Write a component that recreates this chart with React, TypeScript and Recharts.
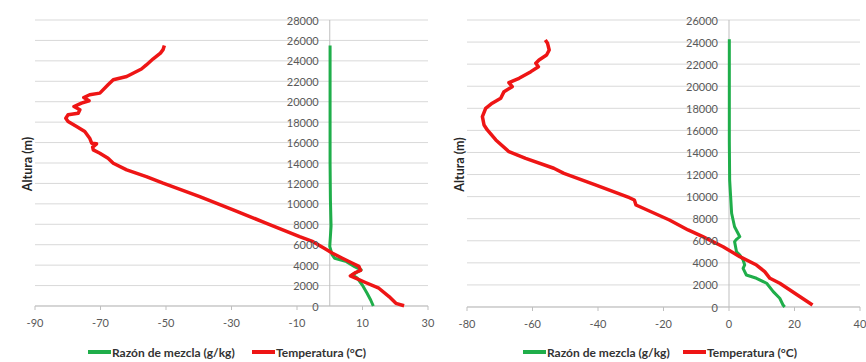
import React from 'react';
import {
  ScatterChart,
  Scatter,
  XAxis,
  YAxis,
  CartesianGrid,
  ReferenceLine,
} from 'recharts';

// ---------- Left sounding ----------
const leftTempAlt = [25500, 25100, 24760, 24200, 23600, 23200, 22470, 22150, 21650, 20840, 20680, 20410, 20090, 19860, 19530, 19210, 18880, 18720, 18390, 18060, 17570, 17080, 16430, 15940, 15880, 15550, 15290, 14960, 14470, 13980, 13330, 12670, 12020, 10710, 9410, 8100, 6790, 6300, 5580, 5190, 4700, 4210, 3880, 3480, 3280, 2950, 2730, 2300, 1740, 920, 260, 30];
const leftTempVal = [-50.5, -50.9, -51.7, -53.9, -56, -57.5, -62, -66.1, -67.7, -70.2, -73.3, -75.1, -73.5, -75.8, -78.1, -76.3, -76.8, -79.9, -80.6, -79.9, -77.3, -74.8, -73.3, -72.7, -71.2, -72.4, -72.2, -70.2, -67.7, -66.1, -62, -56, -50.9, -39.7, -29.5, -19.3, -9.2, -5.1, -1.3, 0.7, 3.7, 6.8, 8.9, 9.4, 7.9, 6.3, 7.9, 10.9, 15.0, 18.1, 20.2, 22.7];

const leftMixAlt = [25500, 20000, 14000, 10440, 7810, 6830, 5840, 5020, 4670, 4340, 3850, 3530, 3050, 2730, 2070, 1250, 590, 0];
const leftMixVal = [0.1, 0.1, 0.1, 0.2, 0.4, 0.2, 0.0, 0.7, 1.5, 5.1, 7.6, 9.6, 6.8, 8.4, 9.9, 11.4, 12.5, 13.3];

const leftXTicks = [-90, -70, -50, -30, -10, 10, 30];
const leftYTicks = [0, 2000, 4000, 6000, 8000, 10000, 12000, 14000, 16000, 18000, 20000, 22000, 24000, 26000, 28000];

// ---------- Right sounding ----------
const rightTempAlt = [24190, 23890, 23280, 22830, 22380, 22080, 21770, 21320, 20720, 20320, 19960, 19510, 18910, 18460, 18000, 17240, 16490, 16040, 15130, 14070, 13470, 12570, 12110, 11050, 9900, 9690, 9240, 7880, 6980, 6370, 5460, 4560, 3800, 3200, 2600, 2150, 930, 180];
const rightTempVal = [-56.1, -55.4, -54.9, -55.7, -58, -59, -58.2, -60.5, -64.1, -67.2, -66.2, -68.7, -69.7, -72.3, -74.3, -75.3, -74.8, -73.8, -71.2, -67.2, -62.1, -53.5, -50.4, -40.6, -30.4, -28.9, -28.4, -18.2, -12.5, -8, -1.8, 3.3, 8.4, 10.9, 12.5, 15.5, 21.7, 25.5];

const rightMixAlt = [24250, 15000, 11500, 10000, 8490, 7270, 6370, 6130, 5920, 5010, 4710, 4260, 3810, 3500, 2900, 2600, 2150, 1390, 790, 180, 0];
const rightMixVal = [0.1, 0.1, 0.2, 0.5, 0.8, 1.7, 3.3, 2.3, 1.7, 2.3, 3.3, 4.3, 4.8, 4.3, 5.3, 8.4, 11.5, 13.5, 15.5, 16.5, 17];

const rightXTicks = [-80, -60, -40, -20, 0, 20, 40];
const rightYTicks = [0, 2000, 4000, 6000, 8000, 10000, 12000, 14000, 16000, 18000, 20000, 22000, 24000, 26000];

const seriesNames = ['Razón de mezcla (g/kg)', 'Temperatura (°C)'];
const yLabel = 'Altura (m)';

const GREEN = '#1fae4a';
const RED = '#ee1515';
const FONT = 'Lato, "Open Sans", sans-serif';

const toPoints = (alt: number[], val: number[]) => alt.map((a, i) => ({ x: val[i], y: a }));

type PanelProps = {
  left: number;
  width: number;
  margin: { top: number; right: number; left: number; bottom: number };
  xTicks: number[];
  yTicks: number[];
  temp: { x: number; y: number }[];
  mix: { x: number; y: number }[];
  legendGreenX: number;
  legendRedX: number;
};

const Panel = ({ left, width, margin, xTicks, yTicks, temp, mix, legendGreenX, legendRedX }: PanelProps) => {
  const height = 362;
  const yAxisW = 1;
  const xMin = xTicks[0];
  const xMax = xTicks[xTicks.length - 1];
  const plotLeft = margin.left + yAxisW;
  const plotW = width - plotLeft - margin.right;
  const plotH = height - margin.top - margin.bottom - 30;
  const zeroX = plotLeft + (plotW * (0 - xMin)) / (xMax - xMin);

  const renderYTick = (props: any) => {
    const { y, payload } = props;
    return (
      <text
        key={`yt-${payload.value}`}
        x={zeroX - 11}
        y={y}
        textAnchor="end"
        dominantBaseline="central"
        fontSize={11}
        fontFamily={FONT}
        fill="#595959"
      >
        {payload.value}
      </text>
    );
  };

  const renderYLabel = () => {
    const cx = plotLeft - 8;
    const cy = margin.top + plotH / 2 + 1;
    return (
      <text
        x={cx}
        y={cy}
        transform={`rotate(-90, ${cx}, ${cy})`}
        textAnchor="middle"
        dominantBaseline="central"
        fontSize={12.5}
        fontWeight="bold"
        fontFamily={FONT}
        fill="#262626"
      >
        {yLabel}
      </text>
    );
  };

  return (
    <div style={{ position: 'absolute', left, top: 0, width, height }}>
      <ScatterChart width={width} height={height} margin={margin}>
        <CartesianGrid horizontal vertical={false} stroke="#d9d9d9" />
        <XAxis
          type="number"
          dataKey="x"
          domain={[xMin, xMax]}
          ticks={xTicks}
          height={30}
          stroke="#bfbfbf"
          tickSize={4}
          tickMargin={9}
          tick={{ fontSize: 11, fill: '#595959', fontFamily: FONT }}
          interval={0}
        />
        <YAxis
          type="number"
          dataKey="y"
          domain={[yTicks[0], yTicks[yTicks.length - 1]]}
          ticks={yTicks}
          width={yAxisW}
          axisLine={false}
          tickLine={false}
          tick={renderYTick}
          interval={0}
          label={renderYLabel}
        />
        <ReferenceLine x={0} stroke="#bfbfbf" strokeWidth={1} />
        <Scatter
          name={seriesNames[0]}
          data={mix}
          fill={GREEN}
          line={{ stroke: GREEN, strokeWidth: 3, strokeLinejoin: 'round', fill: 'none' }}
          lineJointType="linear"
          shape={() => <g />}
          isAnimationActive={false}
        />
        <Scatter
          name={seriesNames[1]}
          data={temp}
          fill={RED}
          line={{ stroke: RED, strokeWidth: 3.5, strokeLinejoin: 'round', fill: 'none' }}
          lineJointType="linear"
          shape={() => <g />}
          isAnimationActive={false}
        />
      </ScatterChart>
      {[
        { x: legendGreenX, color: GREEN, name: seriesNames[0] },
        { x: legendRedX, color: RED, name: seriesNames[1] },
      ].map((it) => (
        <div
          key={it.name}
          style={{
            position: 'absolute',
            left: it.x - left,
            top: 343,
            height: 18,
            display: 'flex',
            alignItems: 'center',
            fontFamily: FONT,
            fontSize: 12,
            fontWeight: 'bold',
            color: '#333333',
            whiteSpace: 'nowrap',
          }}
        >
          <span style={{ display: 'inline-block', width: 23, height: 4, background: it.color, marginRight: 1 }} />
          {it.name}
        </div>
      ))}
    </div>
  );
};

export default function App() {
  return (
    <div style={{ position: 'absolute', left: 0, top: 0, width: 866, height: 362, background: '#fff', overflow: 'hidden' }}>
      <Panel
        left={0}
        width={435}
        margin={{ top: 20, right: 7, left: 34, bottom: 26 }}
        xTicks={leftXTicks}
        yTicks={leftYTicks}
        temp={toPoints(leftTempAlt, leftTempVal)}
        mix={toPoints(leftMixAlt, leftMixVal)}
        legendGreenX={88}
        legendRedX={252}
      />
      <Panel
        left={432}
        width={434}
        margin={{ top: 20, right: 6, left: 34, bottom: 25 }}
        xTicks={rightXTicks}
        yTicks={rightYTicks}
        temp={toPoints(rightTempAlt, rightTempVal)}
        mix={toPoints(rightMixAlt, rightMixVal)}
        legendGreenX={523}
        legendRedX={683}
      />
    </div>
  );
}
